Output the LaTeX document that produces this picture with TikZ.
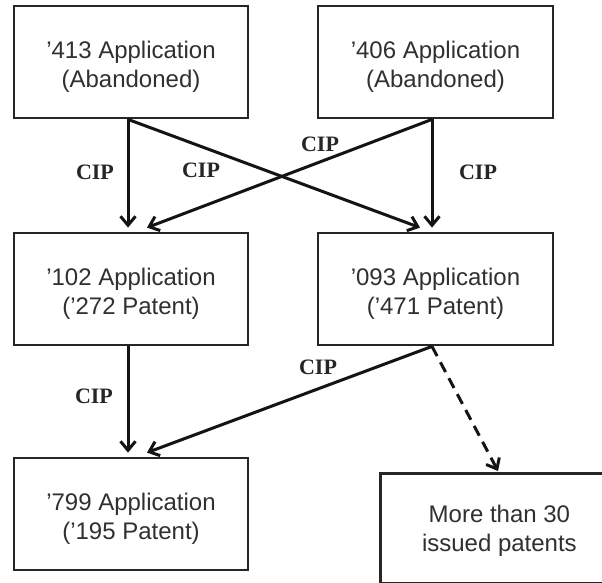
\documentclass[tikz,border=0pt]{standalone}
\usepackage{fontspec}
\setmainfont{Liberation Sans}
\newfontfamily\cipfont{Liberation Serif}
\usetikzlibrary{arrows.meta,calc}
\definecolor{boxline}{HTML}{262626}
\definecolor{boxtext}{HTML}{303030}
\tikzset{
  appbox/.style={draw=boxline, line width=2.8pt, minimum width=234pt, minimum height=112pt, inner sep=0pt},
  apptext/.style={align=center, font=\fontsize{24}{29}\selectfont, text=boxtext, inner sep=0pt},
  link/.style={draw=black!92, line width=3pt, -{Straight Barb[length=9pt,width=15pt,line width=3pt]}},
  dlink/.style={link, dash pattern=on 11pt off 7pt},
  ciplabel/.style={font=\cipfont\bfseries\fontsize{22}{22}\selectfont, text=black!85, inner sep=0pt}
}
\begin{document}
\begin{tikzpicture}[x=1pt,y=-1pt]
\useasboundingbox[fill=white] (0,0) rectangle (602,583);
\begin{scope}
\clip (0,0) rectangle (602,583);
\node[appbox] (a413) at (131,62) {};
\node[appbox, minimum width=235pt] (a406) at (435.5,62) {};
\node[appbox] (a102) at (131,289) {};
\node[appbox, minimum width=235pt] (a093) at (435.5,289) {};
\node[appbox] (a799) at (131,514) {};
\node[appbox, minimum width=238pt, minimum height=110pt, anchor=north west] (amore) at (379,472) {};

\node[apptext] (x413) at ($(a413.center)+(0,5)$) {'413 Application\\(Abandoned)};
\node[apptext] (x406) at ($(a406.center)+(0,5)$) {'406 Application\\(Abandoned)};
\node[apptext] (x102) at ($(a102.center)+(0,5)$) {'102 Application\\('272 Patent)};
\node[apptext] (x093) at ($(a093.center)+(0,5)$) {'093 Application\\('471 Patent)};
\node[apptext] (x799) at ($(a799.center)+(0,5)$) {'799 Application\\('195 Patent)};
\node[apptext] (xmore) at ($(amore.center)+(0,2)$) {More than 30\\issued patents};

\coordinate (s413) at ($(a413.south)+(-3,0)$);
\coordinate (s406) at ($(a406.south)+(-3.5,0)$);
\coordinate (s102) at ($(a102.south)+(-3,0)$);
\coordinate (s093) at ($(a093.south)+(-3.5,0)$);
\coordinate (t102v) at ($(a102.north)+(-3,-4)$);
\coordinate (t102d) at ($(a102.north)+(16,-4)$);
\coordinate (t093d) at ($(a093.north)+(-15.5,-4)$);
\coordinate (t093v) at ($(a093.north)+(-3.5,-4)$);
\coordinate (t799v) at ($(a799.north)+(-3,-4)$);
\coordinate (t799d) at ($(a799.north)+(16,-4)$);
\coordinate (tmore) at ($(amore.north west)+(119,-1)$);

\draw[link] (s413) -- (t102v);
\draw[link] (s413) -- (t093d);
\draw[link] (s406) -- (t102d);
\draw[link] (s406) -- (t093v);
\draw[link] (s102) -- (t799v);
\draw[link] (s093) -- (t799d);
\draw[dlink] (s093) -- (tmore);

\node[ciplabel] (c1) at (95,172) {CIP};
\node[ciplabel] (c2) at (201,170) {CIP};
\node[ciplabel] (c3) at (320,144) {CIP};
\node[ciplabel] (c4) at (478,172) {CIP};
\node[ciplabel] (c5) at (94,396) {CIP};
\node[ciplabel] (c6) at (318,367) {CIP};
\end{scope}
\end{tikzpicture}
\end{document}
